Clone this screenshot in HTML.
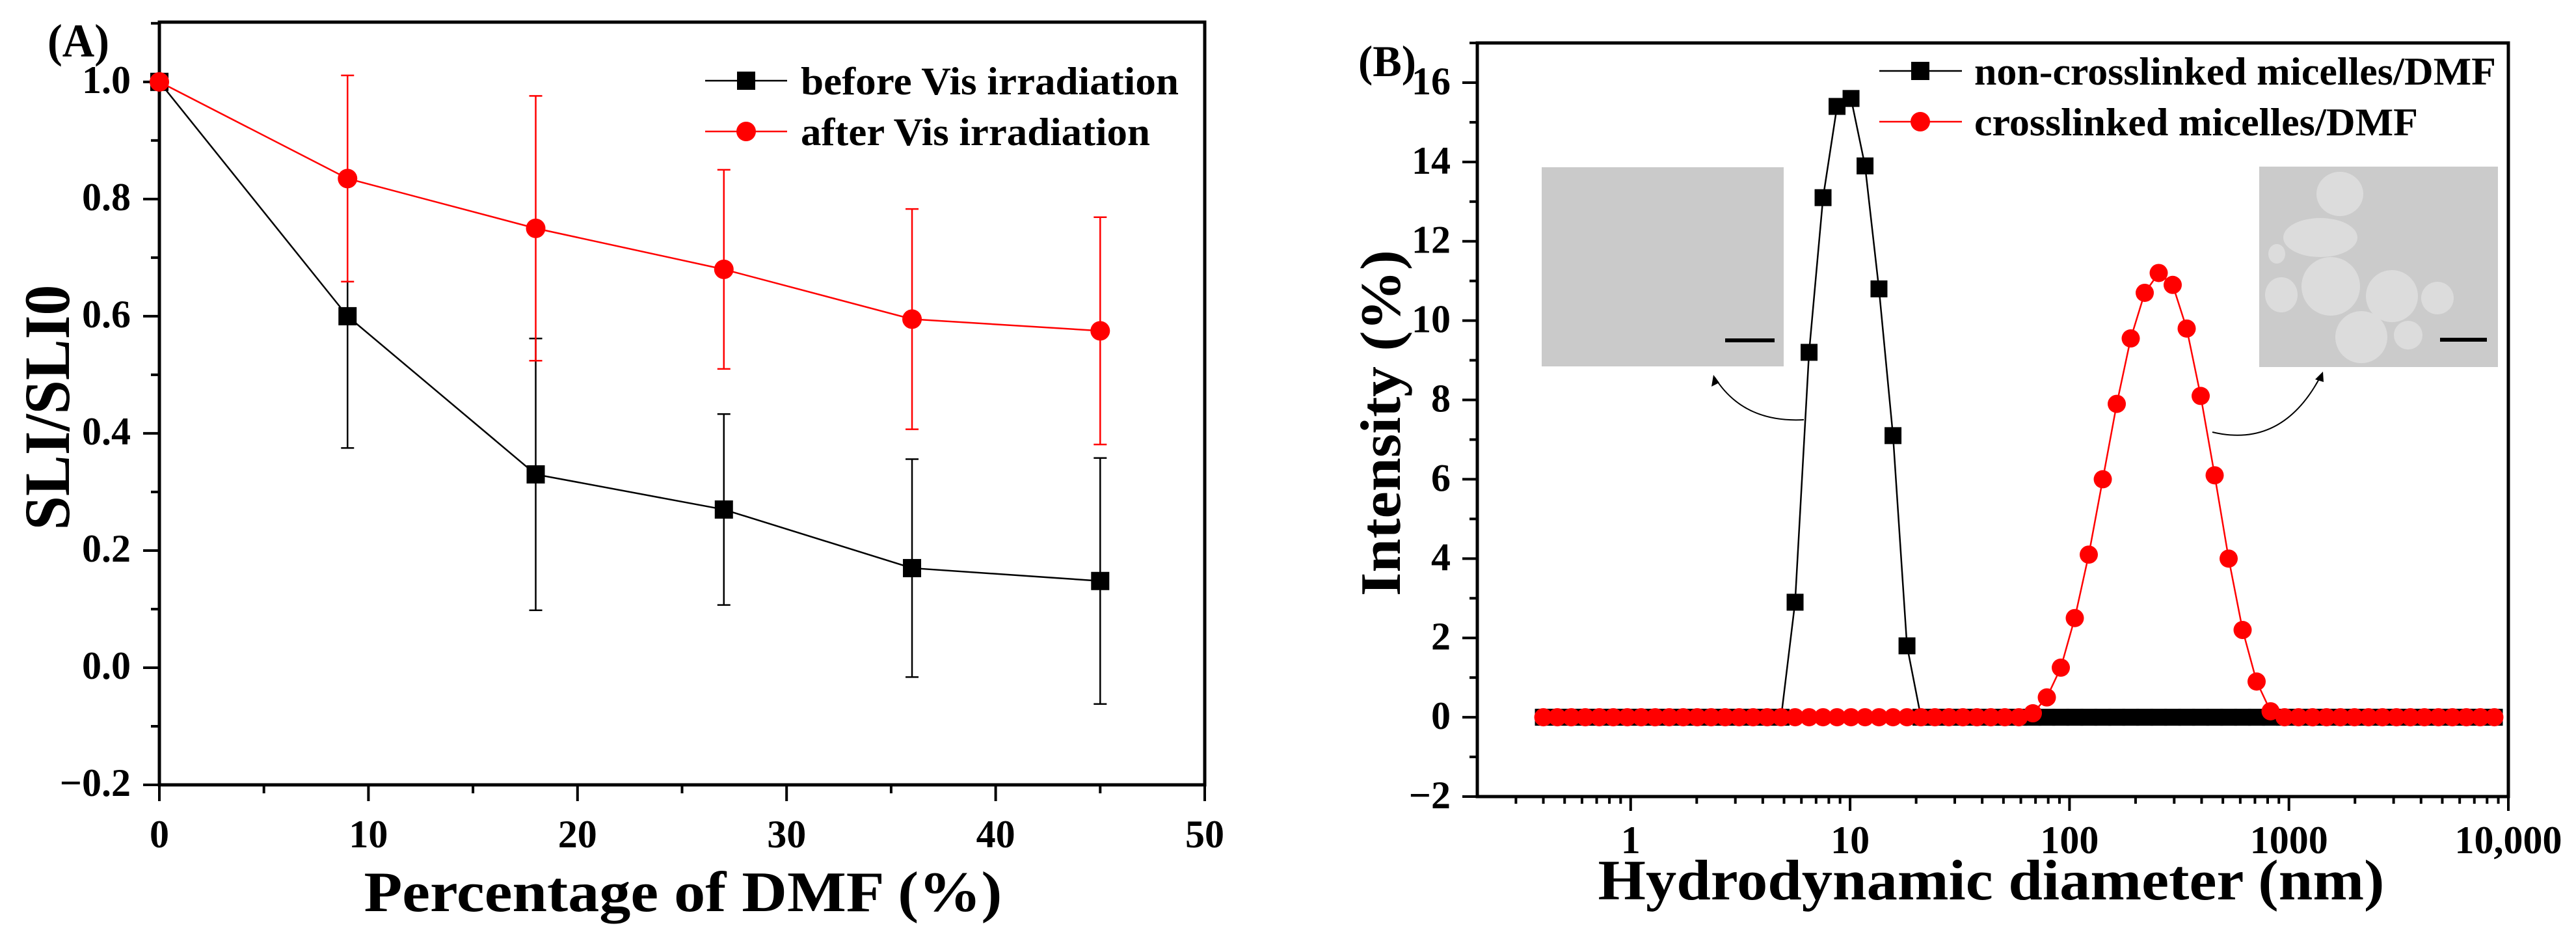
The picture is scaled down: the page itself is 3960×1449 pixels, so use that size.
<!DOCTYPE html>
<html><head><meta charset="utf-8"><style>
html,body{margin:0;padding:0;background:#fff}
svg{display:block}
text{font-family:"Liberation Serif",serif;font-weight:bold;fill:#000}
</style></head><body>
<svg id="fig" width="3960" height="1449" viewBox="0 0 3960 1449" xmlns="http://www.w3.org/2000/svg">
<g id="pa"></g>
<g id="pb"></g>
</svg>
<script>
// ---------- Panel A data ----------
const aX = [0, 9, 18, 27, 36, 45];
const aBefore = [1.0, 0.60, 0.33, 0.27, 0.17, 0.148];
const aBeforeErr = [0, 0.225, 0.232, 0.163, 0.186, 0.21];
const aAfter = [1.0, 0.835, 0.75, 0.68, 0.595, 0.575];
const aAfterErr = [0, 0.176, 0.226, 0.17, 0.188, 0.194];
const aXTicks = [0, 10, 20, 30, 40, 50];
const aYTicks = [-0.2, 0.0, 0.2, 0.4, 0.6, 0.8, 1.0];
const aYTickLabels = ["\u22120.2", "0.0", "0.2", "0.4", "0.6", "0.8", "1.0"];

// ---------- Panel B data ----------
const bDiam = [0.4,0.4632,0.5365,0.6213,0.7195,0.8332,0.9649,1.117,1.294,1.499,1.736,2.010,2.328,2.696,3.122,3.615,4.187,4.849,5.615,6.503,7.531,8.721,10.10,11.70,13.54,15.69,18.17,21.04,24.36,28.21,32.67,37.84,43.82,50.75,58.77,68.06,78.82,91.28,105.7,122.4,141.8,164.2,190.1,220.2,255.0,295.3,342.0,396.1,458.7,531.2,615.1,712.4,825.0,955.4,1106,1281,1484,1718,1990,2305,2669,3091,3580,4145,4801,5560,6439,7456,8635];
const bNonCross = [0,0,0,0,0,0,0,0,0,0,0,0,0,0,0,0,0,0,2.9,9.2,13.1,15.4,15.6,13.9,10.8,7.1,1.8,0,0,0,0,0,0,0,0,0,0,0,0,0,0,0,0,0,0,0,0,0,0,0,0,0,0,0,0,0,0,0,0,0,0,0,0,0,0,0,0,0,0];
const bCross = [0,0,0,0,0,0,0,0,0,0,0,0,0,0,0,0,0,0,0,0,0,0,0,0,0,0,0,0,0,0,0,0,0,0,0,0.1,0.5,1.25,2.5,4.1,6.0,7.9,9.55,10.7,11.2,10.9,9.8,8.1,6.1,4.0,2.2,0.9,0.15,0,0,0,0,0,0,0,0,0,0,0,0,0,0,0,0];
const bXTicks = [1, 10, 100, 1000, 10000];
const bXTickLabels = ["1", "10", "100", "1000", "10,000"];
const bYTicks = [-2, 0, 2, 4, 6, 8, 10, 12, 14, 16];
const bYTickLabels = ["\u22122", "0", "2", "4", "6", "8", "10", "12", "14", "16"];

const NS = "http://www.w3.org/2000/svg";
function mk(parent, tag, attrs, txt) {
  const e = document.createElementNS(NS, tag);
  for (const k in attrs) e.setAttribute(k, attrs[k]);
  if (txt !== undefined) e.textContent = txt;
  parent.appendChild(e);
  return e;
}

// ================= Panel A =================
const pa = document.getElementById('pa');
const A = {l:245, r:1852, t:34, b:1206, x0:0, x1:50, y0:-0.2, y1:1.102};
const ax = v => A.l + (v - A.x0) / (A.x1 - A.x0) * (A.r - A.l);
const ay = v => A.b - (v - A.y0) / (A.y1 - A.y0) * (A.b - A.t);

let el = mk(pa, 'rect', {x:A.l, y:A.t, width:A.r-A.l, height:A.b-A.t, fill:'none', stroke:'#000', 'stroke-width':5});



for (let i = 0; i < aXTicks.length; i++) {
  const x = ax(aXTicks[i]);
  el = mk(pa, 'line', {x1:x, y1:A.b, x2:x, y2:A.b+25, stroke:'#000', 'stroke-width':4});
  
  
  el = mk(pa, 'text', {x:x, y:1302, 'font-size':60, 'text-anchor':'middle'}, String(aXTicks[i]));
  
  
  if (i < aXTicks.length - 1) {
    const xm = ax(aXTicks[i] + 5);
    el = mk(pa, 'line', {x1:xm, y1:A.b, x2:xm, y2:A.b+13, stroke:'#000', 'stroke-width':4});
    
    
  }
}
for (let i = 0; i < aYTicks.length; i++) {
  const y = ay(aYTicks[i]);
  el = mk(pa, 'line', {x1:A.l-25, y1:y, x2:A.l, y2:y, stroke:'#000', 'stroke-width':4});
  
  
  el = mk(pa, 'text', {x:201, y:y+17, 'font-size':60, 'text-anchor':'end'}, aYTickLabels[i]);
  
  
  const ym = ay(aYTicks[i] + 0.1);
  if (ym > A.t) {
    el = mk(pa, 'line', {x1:A.l-13, y1:ym, x2:A.l, y2:ym, stroke:'#000', 'stroke-width':4});
    
    
  }
}

function seriesA(vals, errs, color, marker, name) {
  const g = mk(pa, 'g', {});
  
  
  for (let i = 0; i < aX.length; i++) {
    if (!errs[i]) continue;
    const x = ax(aX[i]), y1 = ay(vals[i] - errs[i]), y2 = ay(vals[i] + errs[i]);
    el = mk(g, 'path', {d:`M${x},${y1}V${y2}M${x-10},${y1}H${x+10}M${x-10},${y2}H${x+10}`, stroke:color, 'stroke-width':2.5, fill:'none'});
    
    
  }
  const pts = aX.map((v, i) => ax(v) + ',' + ay(vals[i])).join(' ');
  el = mk(g, 'polyline', {points:pts, fill:'none', stroke:color, 'stroke-width':2.5});
  
  
  for (let i = 0; i < aX.length; i++) {
    const x = ax(aX[i]), y = ay(vals[i]);
    if (marker === 's') el = mk(g, 'rect', {x:x-14, y:y-14, width:28, height:28, fill:color});
    else el = mk(g, 'circle', {cx:x, cy:y, r:15, fill:color});
    
    
  }
}
seriesA(aBefore, aBeforeErr, '#000', 's', 'series-before-vis');
seriesA(aAfter, aAfterErr, '#ff0000', 'c', 'series-after-vis');

// legend A
el = mk(pa, 'g', {});


const lgA = el;
el = mk(lgA, 'line', {x1:1084, y1:124, x2:1210, y2:124, stroke:'#000', 'stroke-width':2.5});


el = mk(lgA, 'rect', {x:1133, y:110, width:28, height:28, fill:'#000'});


el = mk(lgA, 'text', {x:1231, y:145, 'font-size':60, textLength:581, lengthAdjust:'spacingAndGlyphs'}, 'before Vis irradiation');


el = mk(lgA, 'line', {x1:1084, y1:202, x2:1210, y2:202, stroke:'#ff0000', 'stroke-width':2.5});


el = mk(lgA, 'circle', {cx:1147, cy:202, r:15, fill:'#ff0000'});


el = mk(lgA, 'text', {x:1231, y:223, 'font-size':60, textLength:537, lengthAdjust:'spacingAndGlyphs'}, 'after Vis irradiation');



el = mk(pa, 'text', {x:73, y:87, 'font-size':72, textLength:95, lengthAdjust:'spacingAndGlyphs'}, '(A)');


el = mk(pa, 'text', {x:1050, y:1400, 'font-size':88, 'text-anchor':'middle', textLength:981, lengthAdjust:'spacingAndGlyphs'}, 'Percentage of DMF (%)');


el = mk(pa, 'text', {x:0, y:0, 'font-size':100, 'text-anchor':'middle', textLength:377, lengthAdjust:'spacingAndGlyphs', transform:'translate(106,626) rotate(-90)'}, 'SLI/SLI0');



// ================= Panel B =================
const pb = document.getElementById('pb');
const B = {l:2271, r:3856, t:66, b:1224, lx0:Math.log10(0.2), lx1:4, y0:-2, y1:17};
const bx = v => B.l + (Math.log10(v) - B.lx0) / (B.lx1 - B.lx0) * (B.r - B.l);
const by = v => B.b - (v - B.y0) / (B.y1 - B.y0) * (B.b - B.t);

// insets
const ins = mk(pb, 'g', {});


el = mk(ins, 'rect', {x:2370, y:257, width:372, height:306, fill:'#cacaca'});


el = mk(ins, 'line', {x1:2652, y1:523, x2:2728, y2:523, stroke:'#000', 'stroke-width':6});


el = mk(ins, 'rect', {x:3473, y:256, width:367, height:308, fill:'#cbcbcb'});


const blobs = [[3597,298,36,34],[3567,365,57,30],[3583,440,45,45],[3677,455,40,40],[3747,458,25,25],[3630,518,40,40],[3702,515,22,22],[3507,453,25,27],[3500,390,13,15]];
for (const b of blobs) {
  el = mk(ins, 'ellipse', {cx:b[0], cy:b[1], rx:b[2], ry:b[3], fill:'#dcdcdc'});
  
  
}
el = mk(ins, 'line', {x1:3751, y1:522, x2:3823, y2:522, stroke:'#000', 'stroke-width':6});


el = mk(ins, 'path', {d:'M2773,645 Q2680,650 2636,580', fill:'none', stroke:'#000', 'stroke-width':2});


el = mk(ins, 'path', {d:'M2634,576 l-3,18 l12,-6 z', fill:'#000'});


el = mk(ins, 'path', {d:'M3401,664 Q3510,690 3569,575', fill:'none', stroke:'#000', 'stroke-width':2});


el = mk(ins, 'path', {d:'M3571,571 l-12,12 l13,4 z', fill:'#000'});



el = mk(pb, 'rect', {x:B.l, y:B.t, width:B.r-B.l, height:B.b-B.t, fill:'none', stroke:'#000', 'stroke-width':5});



for (let i = 0; i < bXTicks.length; i++) {
  const x = bx(bXTicks[i]);
  el = mk(pb, 'line', {x1:x, y1:B.b, x2:x, y2:B.b+22, stroke:'#000', 'stroke-width':4});
  
  
  el = mk(pb, 'text', {x:x, y:1311, 'font-size':60, 'text-anchor':'middle'}, bXTickLabels[i]);
  
  
}
for (let d = 0.1; d < 5000; d *= 10) {
  for (let k = 2; k <= 9; k++) {
    const v = d * k;
    if (v < 0.21 || v > 9999) continue;
    const x = bx(v);
    el = mk(pb, 'line', {x1:x, y1:B.b, x2:x, y2:B.b+11, stroke:'#000', 'stroke-width':4});
    
    
  }
}
for (let i = 0; i < bYTicks.length; i++) {
  const y = by(bYTicks[i]);
  el = mk(pb, 'line', {x1:B.l-23, y1:y, x2:B.l, y2:y, stroke:'#000', 'stroke-width':4});
  
  
  el = mk(pb, 'text', {x:2230, y:y+18, 'font-size':60, 'text-anchor':'end'}, bYTickLabels[i]);
  
  
  const ym = by(bYTicks[i] + 1);
  el = mk(pb, 'line', {x1:B.l-12, y1:ym, x2:B.l, y2:ym, stroke:'#000', 'stroke-width':4});
  
  
}

function seriesB(vals, color, marker, name) {
  const g = mk(pb, 'g', {});
  
  
  const pts = bDiam.map((d, i) => bx(d) + ',' + by(vals[i])).join(' ');
  el = mk(g, 'polyline', {points:pts, fill:'none', stroke:color, 'stroke-width':2.5});
  
  
  for (let i = 0; i < bDiam.length; i++) {
    const x = bx(bDiam[i]), y = by(vals[i]);
    if (marker === 's') el = mk(g, 'rect', {x:x-13, y:y-13, width:26, height:26, fill:color});
    else el = mk(g, 'circle', {cx:x, cy:y, r:14, fill:color});
    
    
  }
}
seriesB(bNonCross, '#000', 's', 'series-non-crosslinked');
seriesB(bCross, '#ff0000', 'c', 'series-crosslinked');

el = mk(pb, 'g', {});


const lgB = el;
el = mk(lgB, 'line', {x1:2889, y1:109, x2:3016, y2:109, stroke:'#000', 'stroke-width':2.5});


el = mk(lgB, 'rect', {x:2938, y:95, width:28, height:28, fill:'#000'});


el = mk(lgB, 'text', {x:3035, y:130, 'font-size':60, textLength:802, lengthAdjust:'spacingAndGlyphs'}, 'non-crosslinked micelles/DMF');


el = mk(lgB, 'line', {x1:2889, y1:187, x2:3016, y2:187, stroke:'#ff0000', 'stroke-width':2.5});


el = mk(lgB, 'circle', {cx:2952, cy:187, r:15, fill:'#ff0000'});


el = mk(lgB, 'text', {x:3035, y:208, 'font-size':60, textLength:682, lengthAdjust:'spacingAndGlyphs'}, 'crosslinked micelles/DMF');



el = mk(pb, 'text', {x:2088, y:117, 'font-size':68, textLength:89, lengthAdjust:'spacingAndGlyphs'}, '(B)');


el = mk(pb, 'text', {x:3061, y:1382, 'font-size':88, 'text-anchor':'middle', textLength:1209, lengthAdjust:'spacingAndGlyphs'}, 'Hydrodynamic diameter (nm)');


el = mk(pb, 'text', {x:0, y:0, 'font-size':88, 'text-anchor':'middle', textLength:532, lengthAdjust:'spacingAndGlyphs', transform:'translate(2152,650) rotate(-90)'}, 'Intensity (%)');


</script>
</body></html>
